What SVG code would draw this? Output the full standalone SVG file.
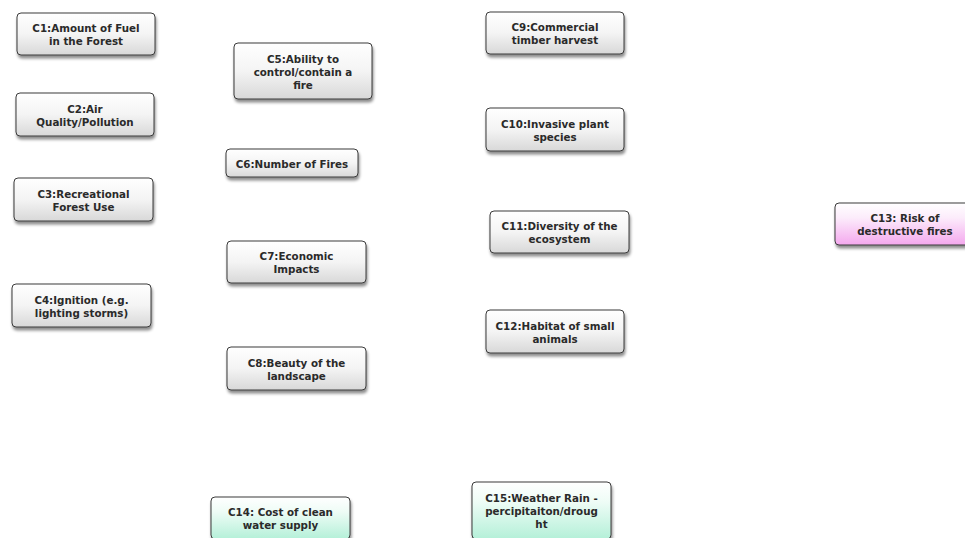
<svg xmlns="http://www.w3.org/2000/svg" width="965" height="538" viewBox="0 0 965 538">
<defs>
<linearGradient id="gGray" x1="0" y1="0" x2="0" y2="1">
<stop offset="0" stop-color="#ffffff"/>
<stop offset="0.5" stop-color="#f4f4f4"/>
<stop offset="1" stop-color="#d8d8d8"/>
</linearGradient>
<linearGradient id="gPink" x1="0" y1="0" x2="0" y2="1">
<stop offset="0" stop-color="#ffffff"/>
<stop offset="0.35" stop-color="#fcecfb"/>
<stop offset="1" stop-color="#f4a8ee"/>
</linearGradient>
<linearGradient id="gMint" x1="0" y1="0" x2="0" y2="1">
<stop offset="0" stop-color="#ffffff"/>
<stop offset="0.35" stop-color="#eefcf6"/>
<stop offset="1" stop-color="#b4f0d8"/>
</linearGradient>
<filter id="sh" x="-10%" y="-20%" width="125%" height="160%">
<feDropShadow dx="1" dy="3" stdDeviation="1.6" flood-color="#000" flood-opacity="0.45"/>
</filter>
</defs>
<style>
.box{stroke:#3a3a3a;stroke-width:1;filter:url(#sh)}
.gray{fill:url(#gGray)}
.pink{fill:url(#gPink)}
.mint{fill:url(#gMint)}
text{font-family:"DejaVu Sans","Verdana",sans-serif;font-weight:bold;font-size:10.3px;fill:#2a2a2a;text-anchor:middle}
</style>
<rect width="965" height="538" fill="#ffffff"/>
<g id="connectors"></g>
<g id="C1"><rect class="box gray" x="17" y="13" width="138" height="42" rx="4"/><text x="86" y="32.2">C1:Amount of Fuel</text><text x="86" y="45.2">in the Forest</text></g>
<g id="C2"><rect class="box gray" x="16" y="93" width="138" height="43" rx="4"/><text x="85" y="112.7">C2:Air</text><text x="85" y="125.7">Quality/Pollution</text></g>
<g id="C3"><rect class="box gray" x="14" y="178" width="139" height="43" rx="4"/><text x="83.5" y="197.7">C3:Recreational</text><text x="83.5" y="210.7">Forest Use</text></g>
<g id="C4"><rect class="box gray" x="12" y="284" width="139" height="43" rx="4"/><text x="81.5" y="303.7">C4:Ignition (e.g.</text><text x="81.5" y="316.7">lighting storms)</text></g>
<g id="C5"><rect class="box gray" x="234" y="43" width="138" height="56" rx="4"/><text x="303" y="62.7">C5:Ability to</text><text x="303" y="75.7">control/contain a</text><text x="303" y="88.7">fire</text></g>
<g id="C6"><rect class="box gray" x="226" y="149" width="132" height="28" rx="4"/><text x="292" y="167.7">C6:Number of Fires</text></g>
<g id="C7"><rect class="box gray" x="227" y="241" width="139" height="42" rx="4"/><text x="296.5" y="260.2">C7:Economic</text><text x="296.5" y="273.2">Impacts</text></g>
<g id="C8"><rect class="box gray" x="227" y="347" width="139" height="43" rx="4"/><text x="296.5" y="366.7">C8:Beauty of the</text><text x="296.5" y="379.7">landscape</text></g>
<g id="C9"><rect class="box gray" x="486" y="12" width="138" height="42" rx="4"/><text x="555" y="31.2">C9:Commercial</text><text x="555" y="44.2">timber harvest</text></g>
<g id="C10"><rect class="box gray" x="486" y="108" width="138" height="43" rx="4"/><text x="555" y="127.7">C10:Invasive plant</text><text x="555" y="140.7">species</text></g>
<g id="C11"><rect class="box gray" x="490" y="211" width="139" height="42" rx="4"/><text x="559.5" y="230.2">C11:Diversity of the</text><text x="559.5" y="243.2">ecosystem</text></g>
<g id="C12"><rect class="box gray" x="486" y="310" width="138" height="43" rx="4"/><text x="555" y="329.7">C12:Habitat of small</text><text x="555" y="342.7">animals</text></g>
<g id="C13"><rect class="box pink" x="835" y="203" width="140" height="42" rx="4"/><text x="905" y="222.2">C13: Risk of</text><text x="905" y="235.2">destructive fires</text></g>
<g id="C14"><rect class="box mint" x="211" y="497" width="139" height="42" rx="4"/><text x="280.5" y="516.2">C14: Cost of clean</text><text x="280.5" y="529.2">water supply</text></g>
<g id="C15"><rect class="box mint" x="472" y="482" width="139" height="57" rx="4"/><text x="541.5" y="501.7">C15:Weather Rain -</text><text x="541.5" y="514.7">percipitaiton/droug</text><text x="541.5" y="527.7">ht</text></g>
</svg>
